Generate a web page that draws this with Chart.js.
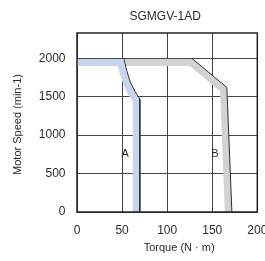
<!DOCTYPE html>
<html>
<head>
<meta charset="utf-8">
<script src="https://cdn.jsdelivr.net/npm/chart.js@4/dist/chart.umd.min.js"></script>
<style>
  body { margin: 0; background: #fff; overflow: hidden; }
  #wrap { width: 265px; height: 261px; overflow: hidden; }
</style>
</head>
<body>
<div id="wrap"><canvas id="myChart" width="280" height="261"></canvas></div>
<script>
// torque (N·m) / speed (min-1)
var torqueA = [0, 48.5, 51, 55, 60.5, 65.8, 65.8];
var speedA = [1945, 1945, 1820, 1680, 1545, 1450, 0];
var edgeTorqueA = [52, 55, 59, 64.5, 69.7, 69.7];
var edgeSpeedA = [2000, 1845, 1695, 1565, 1470, 0];

var torqueB = [53.5, 126.5, 162.5, 167.9];
var speedB = [1945, 1945, 1594, 0];
var edgeTorqueB = [127.4, 166.2, 171.8];
var edgeSpeedB = [2000, 1622, 0];

var regionNames = ["A", "B"];
var regionTorque = [53.5, 153];
var regionSpeed = [750, 750];

var xTicks = [0, 50, 100, 150, 200];
var yTicks = [0, 500, 1000, 1500, 2000];

var chartTitle = "SGMGV-1AD";
var xTitle = "Torque (N \u00b7 m)";
var yTitle = "Motor Speed (min-1)";

function pts(xs, ys) {
  return xs.map(function (x, i) { return {x: x, y: ys[i]}; });
}

var FONT = "'Liberation Sans', Arial, sans-serif";
var TEXT = "#2a2a2a";

var textPlugin = {
  id: "texts",
  afterDraw: function (chart) {
    var c = chart.ctx, a = chart.chartArea;
    var xs = chart.scales.x, ys = chart.scales.y;
    c.save();
    // frame
    c.strokeStyle = "#222";
    c.lineWidth = 1.5;
    c.strokeRect(a.left, a.top, a.right - a.left, a.bottom - a.top);

    c.fillStyle = TEXT;
    c.textAlign = "center";
    c.textBaseline = "middle";
    c.font = "12px " + FONT;
    c.fillText(chartTitle, (a.left + a.right) / 2 - 2, 16.5);

    c.font = "11px " + FONT;
    c.fillText(xTitle, (a.left + a.right) / 2 + 12, 248);

    c.save();
    c.translate(17.5, (a.top + a.bottom) / 2 + 2);
    c.rotate(-Math.PI / 2);
    c.fillText(yTitle, 0, 0);
    c.restore();

    regionNames.forEach(function (n, i) {
      c.fillText(n, xs.getPixelForValue(regionTorque[i]), ys.getPixelForValue(regionSpeed[i]));
    });
    c.restore();
  }
};

var ctx = document.getElementById("myChart").getContext('2d');
var myChart = new Chart(ctx, {
  type: 'scatter',
  data: {
    datasets: [
      {
        data: pts(torqueB, speedB),
        showLine: true,
        borderColor: "#d2d2d2",
        borderWidth: 7,
        pointRadius: 0,
        order: 3
      },
      {
        data: pts(torqueA, speedA),
        showLine: true,
        borderColor: "#c6d4ee",
        borderWidth: 7,
        pointRadius: 0,
        order: 2
      },
      {
        data: pts(edgeTorqueA, edgeSpeedA),
        showLine: true,
        borderColor: "#2e2e2e",
        borderWidth: 1,
        pointRadius: 0,
        order: 1
      },
      {
        data: pts(edgeTorqueB, edgeSpeedB),
        showLine: true,
        borderColor: "#2e2e2e",
        borderWidth: 1,
        pointRadius: 0,
        order: 1
      }
    ]
  },
  options: {
    responsive: false,
    animation: false,
    events: [],
    layout: { padding: { top: 33, right: 22.7, bottom: 0, left: 0 } },
    plugins: {
      legend: { display: false },
      tooltip: { enabled: false }
    },
    scales: {
      x: {
        type: 'linear',
        min: xTicks[0],
        max: xTicks[xTicks.length - 1],
        afterBuildTicks: function (s) { s.ticks = xTicks.map(function (v) { return {value: v}; }); },
        afterFit: function (s) { s.height = 49; s.paddingRight = 0; s.paddingLeft = 0; },
        grid: { color: "#444", lineWidth: 1, drawTicks: false },
        border: { display: false },
        ticks: { padding: 11, color: TEXT, font: { size: 12, family: FONT },
                 callback: function (v) { return String(v); } }
      },
      y: {
        type: 'linear',
        min: 0,
        max: 2330,
        afterBuildTicks: function (s) { s.ticks = yTicks.map(function (v) { return {value: v}; }); },
        afterFit: function (s) { s.width = 77; },
        grid: { color: "#444", lineWidth: 1, drawTicks: false },
        border: { display: false },
        ticks: { padding: 11.5, color: TEXT, font: { size: 12, family: FONT },
                 callback: function (v) { return String(v); } }
      }
    }
  },
  plugins: [textPlugin]
});
</script>
</body>
</html>
